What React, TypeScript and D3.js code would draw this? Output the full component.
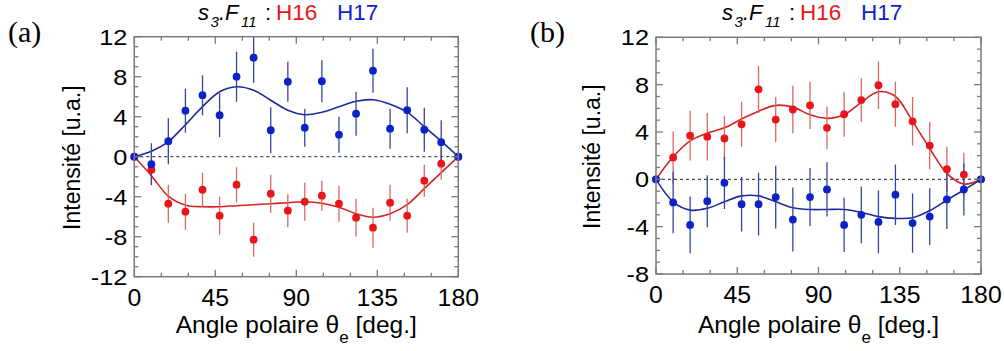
import React from "react";
import * as d3 from "d3";

// ---------- data ----------
const angles = [0, 9.5, 18.9, 28.4, 37.9, 47.4, 56.8, 66.3, 75.8, 85.3, 94.7, 104.2, 113.7, 123.2, 132.6, 142.1, 151.6, 161.1, 170.5, 180];
const xTickLabels = [0, 45, 90, 135, 180];

// panel (a)
const aH16 = [0, -1.3, -4.7, -5.5, -3.3, -5.9, -2.8, -8.3, -3.7, -5.4, -4.5, -3.9, -4.7, -6.1, -7.1, -4.6, -5.9, -2.4, -0.7, 0];
const aH16Err = [0, 1.5, 1.9, 1.8, 1.7, 1.9, 1.75, 1.7, 1.9, 1.65, 1.9, 1.5, 1.8, 1.9, 2.0, 1.8, 1.7, 1.6, 1.6, 0];
const aH16Fit = [0, -1.9, -3.95, -4.85, -5.0, -5.0, -4.9, -4.8, -4.7, -4.6, -4.5, -4.65, -5.05, -5.7, -6.05, -5.7, -4.8, -3.2, -1.6, 0];
const aH17 = [0, -0.75, 1.55, 4.6, 6.15, 4.15, 8.0, 9.9, 2.65, 7.5, 2.9, 7.55, 2.2, 4.3, 8.6, 2.8, 4.65, 2.7, 1.45, 0];
const aH17Err = [0, 2.1, 2.3, 2.2, 2.0, 2.2, 2.5, 2.5, 2.3, 2.0, 1.9, 2.1, 1.8, 2.2, 2.2, 2.0, 2.3, 2.2, 2.2, 0];
const aH17Fit = [0, 0.55, 1.5, 3.2, 5.0, 6.5, 7.0, 6.65, 5.65, 4.65, 4.2, 4.45, 5.0, 5.55, 5.7, 5.25, 4.45, 3.0, 1.55, 0];
const aYTicks = [12, 8, 4, 0, -4, -8, -12];

// panel (b)
const bH16 = [0, 1.85, 3.7, 3.6, 3.45, 4.65, 7.6, 5.05, 5.9, 6.25, 4.35, 5.5, 6.7, 7.95, 6.35, 4.9, 2.85, 0.85, 0.4, 0];
const bH16Err = [0, 2.2, 2.1, 2.0, 1.9, 1.9, 2.0, 1.9, 2.0, 2.0, 1.8, 1.9, 1.85, 2.0, 1.9, 2.05, 2.0, 1.9, 1.85, 0];
const bH16Fit = [0, 1.9, 3.25, 3.9, 4.35, 5.1, 5.75, 6.25, 6.1, 5.45, 5.15, 5.45, 6.5, 7.4, 7.0, 4.9, 2.6, 0.5, -0.4, 0];
const bH17 = [0, -1.95, -3.85, -1.85, -0.3, -2.1, -2.1, -1.5, -3.4, -1.5, -0.85, -3.85, -3.0, -3.6, -1.3, -3.7, -3.15, -1.7, -0.85, 0];
const bH17Err = [0, 2.6, 2.4, 2.2, 2.2, 2.3, 2.65, 2.65, 2.7, 2.45, 2.3, 2.3, 2.4, 2.65, 2.55, 2.5, 2.4, 2.5, 2.2, 0];
const bH17Fit = [0, -1.9, -2.6, -2.45, -1.9, -1.4, -1.4, -1.9, -2.4, -2.55, -2.55, -2.55, -2.8, -3.15, -3.3, -3.25, -2.65, -1.75, -0.9, 0];
const bYTicks = [12, 8, 4, 0, -4, -8];

const RED = "#e8161b";
const RED_FIT = "#d42424";
const RED_BAR = "#e06464";
const BLUE = "#0b22c8";
const BLUE_FIT = "#1c2a9c";
const BLUE_BAR = "#3444a8";
const FRAME = "#7a7a7a";
const SANS = "Liberation Sans, Arial, sans-serif";
const SERIF = "Liberation Serif, Times New Roman, serif";

type PanelProps = {
  id: string;
  tag: string;
  tagX: number;
  x0: number; x1: number; y0: number; y1: number;
  ymin: number; ymax: number;
  yTicks: number[];
  h16: number[]; h16e: number[]; h16f: number[];
  h17: number[]; h17e: number[]; h17f: number[];
  titleX: number;
  ylabelX: number;
};

function Panel(p: PanelProps) {
  const x = d3.scaleLinear().domain([0, 180]).range([p.x0, p.x1]);
  const y = d3.scaleLinear().domain([p.ymin, p.ymax]).range([p.y1, p.y0]);
  const line = d3
    .line<number>()
    .x((_, i) => x(angles[i]))
    .y((d) => y(d))
    .curve(d3.curveCatmullRom.alpha(0.5));

  const xMinor = d3.range(0, 181, 15);
  const yMinor = d3.range(p.ymin, p.ymax + 0.001, 1);

  const series = [
    { v: p.h16, e: p.h16e, f: p.h16f, c: RED, fc: RED_FIT, bc: RED_BAR },
    { v: p.h17, e: p.h17e, f: p.h17f, c: BLUE, fc: BLUE_FIT, bc: BLUE_BAR },
  ];

  const cy = (p.y0 + p.y1) / 2 + 1;
  const tx = p.titleX;

  return (
    <g>
      <defs>
        <clipPath id={"clip-" + p.id}>
          <rect x={p.x0} y={p.y0} width={p.x1 - p.x0} height={p.y1 - p.y0} />
        </clipPath>
      </defs>
      {/* tag */}
      <text x={p.tagX} y={42} fontFamily={SERIF} fontSize={30} fill="#000">
        {p.tag}
      </text>
      {/* title */}
      <g fontFamily={SANS} fill="#000">
        <text x={tx} y={20} fontSize={22} fontStyle="italic">s</text>
        <text x={tx + 12.5} y={27} fontSize={15} fontStyle="italic">3</text>
        <text x={tx + 21} y={20} fontSize={22} fontStyle="italic">.F</text>
        <text x={tx + 43} y={27} fontSize={15} fontStyle="italic">11</text>
        <text x={tx + 67} y={20} fontSize={22}>:</text>
        <text x={tx + 78} y={20} fontSize={22.5} fill={RED}>H16</text>
        <text x={tx + 139} y={20} fontSize={22.5} fill={BLUE}>H17</text>
      </g>

      {/* zero line */}
      <line x1={p.x0} x2={p.x1} y1={y(0)} y2={y(0)} stroke="#222" strokeWidth={1} strokeDasharray="3,3" />

      <g clipPath={`url(#clip-${p.id})`}>
        {series.map((s, k) => (
          <g key={k}>
            <path d={line(s.f) || ""} fill="none" stroke={s.fc} strokeWidth={1.6} />
            {s.v.map((v, i) =>
              s.e[i] > 0 ? (
                <line key={i} x1={x(angles[i])} x2={x(angles[i])} y1={y(v - s.e[i])} y2={y(v + s.e[i])} stroke={s.bc} strokeWidth={1.3} />
              ) : null
            )}
          </g>
        ))}
      </g>
      {series.map((s, k) => (
        <g key={k}>
          {s.v.map((v, i) => (
            <circle key={i} cx={x(angles[i])} cy={y(v)} r={3.9} fill={s.c} />
          ))}
        </g>
      ))}

      {/* frame */}
      <rect x={p.x0} y={p.y0} width={p.x1 - p.x0} height={p.y1 - p.y0} fill="none" stroke={FRAME} strokeWidth={1.5} />
      {/* x ticks */}
      {xMinor.map((t) => {
        const L = t % 45 === 0 ? 7 : 4;
        return (
          <g key={"xt" + t}>
            <line x1={x(t)} x2={x(t)} y1={p.y1} y2={p.y1 - L} stroke={FRAME} strokeWidth={1.3} />
            <line x1={x(t)} x2={x(t)} y1={p.y0} y2={p.y0 + L} stroke={FRAME} strokeWidth={1.3} />
          </g>
        );
      })}
      {/* y ticks */}
      {yMinor.map((t) => {
        const L = t % 4 === 0 ? 7 : 4;
        return (
          <g key={"yt" + t}>
            <line x1={p.x0} x2={p.x0 + L} y1={y(t)} y2={y(t)} stroke={FRAME} strokeWidth={1.3} />
            <line x1={p.x1} x2={p.x1 - L} y1={y(t)} y2={y(t)} stroke={FRAME} strokeWidth={1.3} />
          </g>
        );
      })}
      {/* tick labels */}
      {xTickLabels.map((t) => (
        <text key={"xl" + t} transform={`translate(${x(t)},${p.y1 + 29}) scale(1.08,1)`} textAnchor="middle" fontFamily={SANS} fontSize={23} fill="#000">
          {t}
        </text>
      ))}
      {p.yTicks.map((t) => (
        <text key={"yl" + t} transform={`translate(${p.x0 - 7},${y(t)}) scale(1.15,1)`} dy="0.36em" textAnchor="end" fontFamily={SANS} fontSize={22} fill="#000">
          {t}
        </text>
      ))}
      {/* axis labels */}
      <text x={(p.x0 + p.x1) / 2} y={333} textAnchor="middle" fontFamily={SANS} fontSize={24.5} fill="#000">
        Angle polaire θ<tspan fontSize={17} dy={10}>e</tspan>
        <tspan dy={-10}> [deg.]</tspan>
      </text>
      <text
        transform={`translate(${p.ylabelX},${cy}) rotate(-90)`}
        textAnchor="middle"
        fontFamily={SANS}
        fontSize={23}
        fill="#000"
      >
        Intensité [u.a.]
      </text>
    </g>
  );
}

export default function App() {
  return (
    <svg width={1004} height={351} style={{ position: "absolute", left: 0, top: 0, background: "#fff" }}>
      <rect x={0} y={0} width={1004} height={351} fill="#fff" />
      <Panel
        id="a"
        tag="(a)"
        tagX={8}
        x0={134.3}
        x1={458.3}
        y0={36.7}
        y1={276.7}
        ymin={-12}
        ymax={12}
        yTicks={aYTicks}
        h16={aH16}
        h16e={aH16Err}
        h16f={aH16Fit}
        h17={aH17}
        h17e={aH17Err}
        h17f={aH17Fit}
        titleX={198}
        ylabelX={80}
      />
      <Panel
        id="b"
        tag="(b)"
        tagX={530}
        x0={656}
        x1={981}
        y0={37.3}
        y1={274}
        ymin={-8}
        ymax={12}
        yTicks={bYTicks}
        h16={bH16}
        h16e={bH16Err}
        h16f={bH16Fit}
        h17={bH17}
        h17e={bH17Err}
        h17f={bH17Fit}
        titleX={722}
        ylabelX={600}
      />
    </svg>
  );
}
